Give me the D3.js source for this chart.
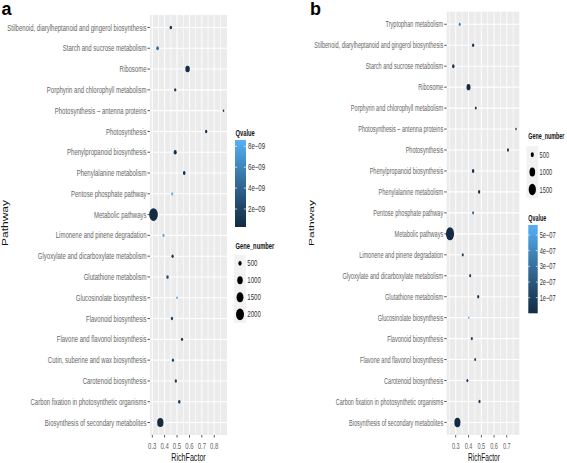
<!DOCTYPE html>
<html><head><meta charset="utf-8">
<script src="https://cdn.jsdelivr.net/npm/d3@7/dist/d3.min.js"></script>
<style>body{margin:0;background:#fff} svg{display:block} text{font-family:"Liberation Sans",Arial,Helvetica,sans-serif}</style>
</head><body><svg id="c" width="567" height="463"></svg>
<script>
// ---------- Panel a data ----------
const pathwaysA = [
  "Stilbenoid, diarylheptanoid and gingerol biosynthesis",
  "Starch and sucrose metabolism",
  "Ribosome",
  "Porphyrin and chlorophyll metabolism",
  "Photosynthesis \u2013 antenna proteins",
  "Photosynthesis",
  "Phenylpropanoid biosynthesis",
  "Phenylalanine metabolism",
  "Pentose phosphate pathway",
  "Metabolic pathways",
  "Limonene and pinene degradation",
  "Glyoxylate and dicarboxylate metabolism",
  "Glutathione metabolism",
  "Glucosinolate biosynthesis",
  "Flavonoid biosynthesis",
  "Flavone and flavonol biosynthesis",
  "Cutin, suberine and wax biosynthesis",
  "Carotenoid biosynthesis",
  "Carbon fixation in photosynthetic organisms",
  "Biosynthesis of secondary metabolites"
];
const richA = [0.45, 0.343, 0.585, 0.485, 0.875, 0.735, 0.485, 0.558, 0.461, 0.31,
               0.391, 0.464, 0.423, 0.50, 0.459, 0.54, 0.467, 0.49, 0.518, 0.365];
const geneA = [430, 440, 720, 420, 400, 420, 480, 440, 410, 2350,
               405, 425, 430, 400, 420, 415, 420, 420, 430, 1250];
const qA = [1.0e-9, 4.5e-9, 5e-10, 1.2e-9, 8e-10, 9e-10, 6e-10, 7e-10, 8.6e-9, 3e-10,
            7.2e-9, 1.5e-9, 2.5e-9, 7.8e-9, 1.8e-9, 1.2e-9, 2.0e-9, 1.5e-9, 1.3e-9, 2.8e-10];
const xTicksA = [0.3, 0.4, 0.5, 0.6, 0.7, 0.8];
const qTicksA = [2e-9, 4e-9, 6e-9, 8e-9];
const sizeBreaksA = [500, 1000, 1500, 2000];

// ---------- Panel b data ----------
const pathwaysB = [
  "Tryptophan metabolism",
  "Stilbenoid, diarylheptanoid and gingerol biosynthesis",
  "Starch and sucrose metabolism",
  "Ribosome",
  "Porphyrin and chlorophyll metabolism",
  "Photosynthesis \u2013 antenna proteins",
  "Photosynthesis",
  "Phenylpropanoid biosynthesis",
  "Phenylalanine metabolism",
  "Pentose phosphate pathway",
  "Metabolic pathways",
  "Limonene and pinene degradation",
  "Glyoxylate and dicarboxylate metabolism",
  "Glutathione metabolism",
  "Glucosinolate biosynthesis",
  "Flavonoid biosynthesis",
  "Flavone and flavonol biosynthesis",
  "Carotenoid biosynthesis",
  "Carbon fixation in photosynthetic organisms",
  "Biosynthesis of secondary metabolites"
];
const richB = [0.331, 0.436, 0.281, 0.40, 0.457, 0.772, 0.709, 0.436, 0.483, 0.436,
               0.255, 0.355, 0.413, 0.476, 0.402, 0.426, 0.452, 0.391, 0.486, 0.313];
const geneB = [425, 440, 450, 620, 425, 420, 430, 450, 440, 425,
               1900, 430, 430, 435, 420, 430, 425, 430, 435, 1100];
const qB = [3.2e-7, 5e-8, 4e-8, 1e-9, 6e-8, 8e-8, 5e-8, 3e-8, 4e-8, 2.5e-7,
            1e-12, 1e-7, 1.2e-7, 6e-8, 5.64e-7, 9e-8, 1e-7, 1.2e-7, 8e-8, 1e-10];
const xTicksB = [0.3, 0.4, 0.5, 0.6, 0.7];
const qTicksB = [1e-7, 2e-7, 3e-7, 4e-7, 5e-7];
const sizeBreaksB = [500, 1000, 1500];

// ---------- layout (final pixel coordinates) ----------
const layoutA = {
  ox: 0, sx: 0.68, plotL: 150, plotR: 227, top: 15, bottom: 435,
  yTitleX: 7.5, xTitleX: 188.5, rmin: 1.2, rmax: 6.35,
  qTitleY: 136, barX0: 235, barX1: 246, barY0: 140, barY1: 227,
  gTitleY: 249.5, keyX0: 234.2, keyW: 11.6, keyY0: 254.8, keyStep: 17,
  legX: 235.5
};
const layoutB = {
  ox: 280, sx: 0.63, plotL: 446.7, plotR: 519.3, top: 11.7, bottom: 435,
  yTitleX: 314, xTitleX: 484, rmin: 1.2, rmax: 6.5,
  qTitleY: 221, barX0: 528.3, barX1: 537.7, barY0: 225, barY1: 313.3,
  gTitleY: 139.5, keyX0: 526.5, keyW: 11.6, keyY0: 146, keyStep: 17.4,
  legX: 528.3
};

const svg = d3.select("#c");
const defs = svg.append("defs");

function fmtQ(v) {
  const [m, e] = v.toExponential(0).split("e");
  const sign = e[0] === "-" ? "\u2212" : "+";
  return m + "e" + sign + e.slice(1).padStart(2, "0");
}

function drawPanel(L, pathways, rich, genes, qv, xTicks, qTicks, sizeBreaks, id) {
  const fx = v => (v - L.ox) / L.sx;
  const g = svg.append("g").attr("transform", `translate(${L.ox},0) scale(${L.sx},1)`);
  const data = pathways.map((p, i) => ({p, r: rich[i], n: genes[i], q: qv[i]}));

  const [rmin0, rmax0] = d3.extent(rich);
  const pad = (rmax0 - rmin0) * 0.05;
  const x = d3.scaleLinear().domain([rmin0 - pad, rmax0 + pad]).range([fx(L.plotL), fx(L.plotR)]);
  const y = d3.scalePoint().domain(pathways).range([L.top, L.bottom]).padding(0.6);

  const nExt = d3.extent(genes);
  const tN = d3.scaleLinear().domain(nExt).range([0, 1]).clamp(true);
  const rad = n => L.rmin + (L.rmax - L.rmin) * Math.sqrt(tN(n));
  const qExt = d3.extent(qv);
  const col = d3.scaleLinear().domain(qExt).range(["#132B43", "#56B1F7"]).interpolate(d3.interpolateLab);

  // panel background
  g.append("rect").attr("x", fx(L.plotL)).attr("y", L.top)
    .attr("width", fx(L.plotR) - fx(L.plotL)).attr("height", L.bottom - L.top).attr("fill", "#EBEBEB");

  // minor vertical grid
  const dom = x.domain();
  const minor = xTicks.map(t => t - 0.05).concat([xTicks[xTicks.length - 1] + 0.05])
    .filter(v => v > dom[0] && v < dom[1]);
  g.selectAll(".mn").data(minor).join("line")
    .attr("x1", d => x(d)).attr("x2", d => x(d)).attr("y1", L.top).attr("y2", L.bottom)
    .attr("stroke", "#fff").attr("stroke-width", 0.8);
  // major vertical grid
  g.selectAll(".mj").data(xTicks).join("line")
    .attr("x1", d => x(d)).attr("x2", d => x(d)).attr("y1", L.top).attr("y2", L.bottom)
    .attr("stroke", "#fff").attr("stroke-width", 1.5);
  // horizontal grid
  g.selectAll(".hg").data(pathways).join("line")
    .attr("x1", fx(L.plotL)).attr("x2", fx(L.plotR)).attr("y1", d => y(d)).attr("y2", d => y(d))
    .attr("stroke", "#fff").attr("stroke-width", 1.1);

  // points
  g.selectAll(".pt").data(data).join("circle")
    .attr("cx", d => x(d.r)).attr("cy", d => y(d.p)).attr("r", d => rad(d.n))
    .attr("fill", d => col(d.q));

  // y axis
  const tick = 2.5 / L.sx;
  g.selectAll(".yt").data(pathways).join("line")
    .attr("x1", fx(L.plotL) - tick).attr("x2", fx(L.plotL)).attr("y1", d => y(d)).attr("y2", d => y(d))
    .attr("stroke", "#333").attr("stroke-width", 1);
  g.selectAll(".yl").data(pathways).join("text")
    .attr("x", fx(L.plotL - 3.5)).attr("y", d => y(d)).attr("dy", "0.35em")
    .attr("text-anchor", "end").attr("font-size", 8.8).attr("fill", "#666").text(d => d);

  // x axis
  g.selectAll(".xt").data(xTicks).join("line")
    .attr("x1", d => x(d)).attr("x2", d => x(d)).attr("y1", L.bottom).attr("y2", L.bottom + 2.5)
    .attr("stroke", "#333").attr("stroke-width", 1.2);
  g.selectAll(".xl").data(xTicks).join("text")
    .attr("x", d => x(d)).attr("y", 449.3).attr("text-anchor", "middle")
    .attr("font-size", 8.8).attr("fill", "#666").text(d => d3.format(".1f")(d));

  // axis titles
  g.append("text").attr("x", fx(L.xTitleX)).attr("y", 461.3).attr("text-anchor", "middle")
    .attr("font-size", 10.5).attr("fill", "#111").text("RichFactor");
  g.append("text").attr("transform", `translate(${fx(L.yTitleX)},223) rotate(-90)`)
    .attr("text-anchor", "middle").attr("font-size", 12).attr("fill", "#111").text("Pathway");

  // Qvalue colorbar legend
  g.append("text").attr("x", fx(L.legX)).attr("y", L.qTitleY).attr("font-size", 8.5)
    .attr("font-weight", "bold").attr("fill", "#111").text("Qvalue");
  const grad = defs.append("linearGradient").attr("id", "grad" + id)
    .attr("x1", 0).attr("y1", 1).attr("x2", 0).attr("y2", 0);
  d3.range(0, 1.0001, 0.1).forEach(t => {
    grad.append("stop").attr("offset", t)
      .attr("stop-color", col(qExt[0] + t * (qExt[1] - qExt[0])));
  });
  g.append("rect").attr("x", fx(L.barX0)).attr("y", L.barY0)
    .attr("width", fx(L.barX1) - fx(L.barX0)).attr("height", L.barY1 - L.barY0)
    .attr("fill", `url(#grad${id})`);
  const qy = d3.scaleLinear().domain(qExt).range([L.barY1, L.barY0]);
  const bw = fx(L.barX1) - fx(L.barX0);
  g.selectAll(".qtk").data(qTicks).join("path")
    .attr("d", d => `M${fx(L.barX0)},${qy(d)}h${bw / 5}M${fx(L.barX1)},${qy(d)}h${-bw / 5}`)
    .attr("stroke", "#fff").attr("stroke-width", 0.8);
  g.selectAll(".qlb").data(qTicks).join("text")
    .attr("x", fx(L.barX1 + 2)).attr("y", d => qy(d)).attr("dy", "0.35em")
    .attr("font-size", 9).attr("fill", "#333").text(fmtQ);

  // Gene_number size legend
  g.append("text").attr("x", fx(L.legX)).attr("y", L.gTitleY).attr("font-size", 8.5)
    .attr("font-weight", "bold").attr("fill", "#111").text("Gene_number");
  const keys = g.selectAll(".key").data(sizeBreaks).join("g")
    .attr("transform", (d, i) => `translate(0,${L.keyY0 + i * L.keyStep})`);
  keys.append("rect").attr("x", fx(L.keyX0)).attr("y", 0)
    .attr("width", L.keyW / L.sx).attr("height", L.keyStep).attr("fill", "#F2F2F2");
  keys.append("circle").attr("cx", fx(L.keyX0 + L.keyW / 2)).attr("cy", L.keyStep / 2)
    .attr("r", d => rad(d)).attr("fill", "#000");
  keys.append("text").attr("x", fx(L.keyX0 + L.keyW + 1.5)).attr("y", L.keyStep / 2).attr("dy", "0.35em")
    .attr("font-size", 9).attr("fill", "#333").text(d => d);
}

drawPanel(layoutA, pathwaysA, richA, geneA, qA, xTicksA, qTicksA, sizeBreaksA, "a");
drawPanel(layoutB, pathwaysB, richB, geneB, qB, xTicksB, qTicksB, sizeBreaksB, "b");

// panel letters
svg.append("text").attr("x", 1.5).attr("y", 15).attr("font-size", 18).attr("font-weight", "bold").attr("fill", "#000").text("a");
svg.append("text").attr("x", 310).attr("y", 15).attr("font-size", 18).attr("font-weight", "bold").attr("fill", "#000").text("b");
</script></body></html>
